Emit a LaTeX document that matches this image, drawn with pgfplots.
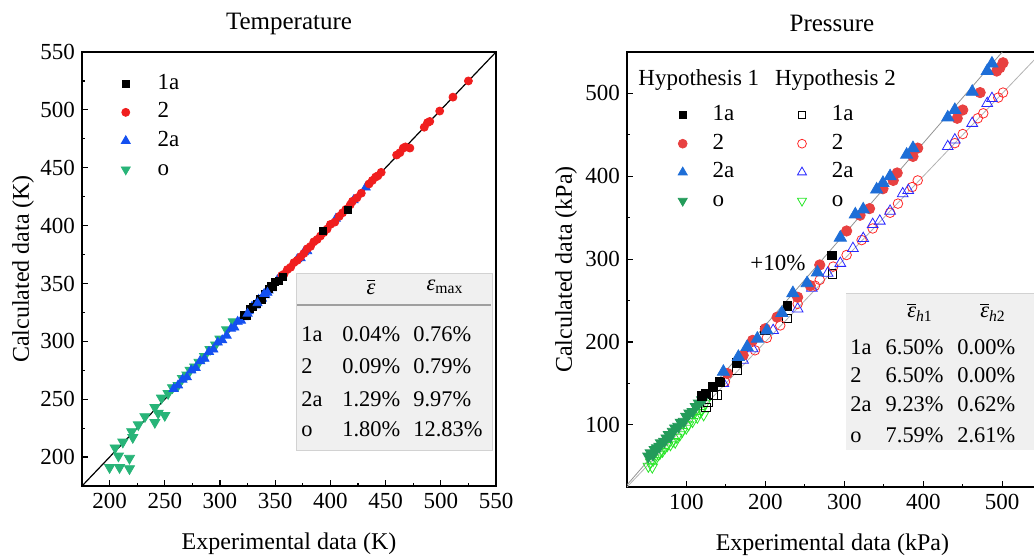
\documentclass[border=0pt]{standalone}
\usepackage{amsmath}
\usepackage{fontspec}
\setmainfont{Liberation Serif}
\usepackage{pgfplots}
\pgfplotsset{compat=1.18}
\definecolor{tred}{RGB}{240,30,30}
\definecolor{tblue}{RGB}{20,80,240}
\definecolor{tgreen}{RGB}{40,180,120}
\definecolor{pred}{RGB}{232,65,65}
\definecolor{pblue}{RGB}{30,110,215}
\definecolor{pgreen}{RGB}{35,155,90}
\definecolor{ored}{RGB}{255,40,40}
\definecolor{oblue}{RGB}{40,40,255}
\definecolor{ogreen}{RGB}{40,230,40}
\definecolor{tabbg}{RGB}{240,240,240}
\newcommand{\tfont}{\fontsize{11.5}{13}\selectfont}
\newcommand{\tabfont}{\fontsize{11.2}{13}\selectfont}
\pgfplotsset{common/.style={
  scale only axis, tick align=inside, xtick pos=bottom, ytick pos=left,
  major tick length=3pt, minor tick length=1.6pt, minor tick num=1,
  axis line style={line width=0.8pt},
  every tick/.style={black, line width=0.6pt},
  /pgf/number format/assume math mode=true,
  ticklabel style={font=\tfont},
  label style={font=\fontsize{12}{14}\selectfont},
  title style={font=\fontsize{12.5}{15}\selectfont, at={(axis description cs:0.5,1.037)}, anchor=center, yshift=0pt},
  legend cell align=left,
  legend image code/.code={\path (0cm,0cm) (0.4cm,0cm); \draw[##1] plot coordinates {(0.2cm,0cm)};},
}}
\begin{document}
\begin{tikzpicture}
\useasboundingbox (0,0) rectangle (517pt,279.5pt);
% ---------------- Temperature ----------------
\begin{axis}[common,
  at={(41pt,36.5pt)}, anchor=south west, width=207pt, height=217pt,
  xmin=175, xmax=550, ymin=175, ymax=550,
  xtick={200,250,...,550}, ytick={200,250,...,550},
  title={Temperature},
  xlabel={Experimental data (K)}, ylabel={Calculated data (K)},
  xlabel style={at={(axis description cs:0.5,-0.1336)}, anchor=center},
  ylabel style={at={(axis description cs:-0.1425,0.5)}, anchor=center},
  legend style={draw=none, fill=none, inner sep=0pt, at={(axis description cs:0.0763,0.952)}, anchor=north west,
    font=\tfont, row sep=3.8pt, nodes={text height=8pt, text depth=2.5pt, inner ysep=0pt},
    /tikz/every odd column/.append style={column sep=8pt}},
]
\addplot[black, line width=0.6pt, forget plot] coordinates {(175,175) (550,550)};
\addplot[only marks, mark=triangle*, mark size=2.9pt, mark options={rotate=180, fill=tgreen, draw=tgreen}, forget plot] coordinates {
(200,191)(209,191)(218,190)(218,199)(208,201)(205,208)(212,213)(221,217)(220,222)(226,228)
(232,235)(241,230)(244,238)(250,236)(241,243)(247,251)(253,255)(257,260)(262,262)(266,268)
(270,271)(273,275)(277,278)(281,282)(286,287)(291,293)(296,297)(300,302)(306,310)(312,317)};
\addplot[only marks, mark=triangle*, mark size=2.6pt, mark options={fill=tblue, draw=tblue}, forget plot] coordinates {
(258,259)(262,262)(266,267)(270,269)(274,275)(278,277)(282,283)(286,285)(290,291)(294,293)
(298,299)(302,301)(306,305)(310,311)(313,312)(316,317)(319,318)(322,321)(326,326)(329,330)
(332,331)(335,336)(338,337)(341,340)(344,344)(347,346)(352,353)(370,371)(373,372)(376,377)
(379,378)(405,406)(421,422)(432,433)};
\addplot[only marks, mark=*, mark size=2pt, mark options={fill=tred, draw=tred}, forget plot] coordinates {
(356,357)(358,358)(361,362)(364,364)(367,368)(370,370)(373,373)(376,376)(379,380)(382,382)
(385,386)(388,388)(391,391)(394,394)(397,397)(400,401)(404,403)(408,408)(411,411)(414,414)
(418,418)(420,421)(424,424)(428,428)(435,436)(438,439)(441,442)(443,443)(446,446)(460,461)
(463,463)(466,467)(468,468)(472,467)(485,485)(488,489)(490,490)(499,499)(511,511)(525,525)};
\addplot[only marks, mark=square*, mark size=1.75pt, mark options={fill=black, draw=black}, forget plot] coordinates {
(322,323)(324,322)(327,328)(330,330)(333,332)(336,337)(338,336)(341,341)(344,345)(346,348)
(348,347)(350,351)(353,352)(357,356)(393,395)(416,414)};
\addplot[only marks, mark=triangle*, mark size=2.6pt, mark options={fill=tblue, draw=tblue}, forget plot] coordinates {
(325,324)(334,333)(340,341)(343,342)};
\addlegendimage{only marks, mark=square*, mark size=1.75pt, mark options={fill=black, draw=black}}
\addlegendentry{1a}
\addlegendimage{only marks, mark=*, mark size=2pt, mark options={fill=tred, draw=tred}}
\addlegendentry{2}
\addlegendimage{only marks, mark=triangle*, mark size=2.6pt, mark options={fill=tblue, draw=tblue}}
\addlegendentry{2a}
\addlegendimage{only marks, mark=triangle*, mark size=2.6pt, mark options={rotate=180, fill=tgreen, draw=tgreen}}
\addlegendentry{o}
\end{axis}
% ---------------- Pressure ----------------
\begin{axis}[common,
  at={(313.5pt,36pt)}, anchor=south west, width=205.4pt, height=217.5pt,
  xmin=25, xmax=545, ymin=25, ymax=550,
  xtick={100,200,...,500}, ytick={100,200,...,500},
  title={Pressure},
  title style={at={(axis description cs:0.499,1.037)}},
  xlabel={Experimental data (kPa)}, ylabel={Calculated data (kPa)},
  xlabel style={at={(axis description cs:0.5,-0.1333)}, anchor=center},
  ylabel style={at={(axis description cs:-0.1485,0.5)}, anchor=center},
  legend columns=2,
  legend style={draw=none, fill=none, inner sep=0pt, at={(axis description cs:0.106,0.880)}, anchor=north west,
    font=\tfont, row sep=3.8pt, nodes={text height=8pt, text depth=2.5pt, inner ysep=0pt},
    /tikz/every odd column/.append style={column sep=7pt},
    /tikz/every even column/.append style={column sep=26pt}},
]
\addplot[gray!60, line width=0.4pt, forget plot] coordinates {(25,25) (545,545)};
\addplot[gray!85, line width=0.4pt, forget plot] coordinates {(22.7,25) (500,550)};
% hypothesis 2 (open)
\addplot[only marks, mark=triangle, mark size=3pt, mark options={rotate=180, draw=ogreen, line width=0.4pt}, forget plot] coordinates {
(52,50)(55,55)(57,49)(58,57)(62,60)(65,64)(67,66)(70,68)(73,72)(76,75)(80,76)(83,80)(86,79)
(88,85)(92,88)(95,92)(100,96)(103,100)(105,108)(108,104)(111,115)(114,109)(117,115)(120,118)(124,126)(122,112)};
\addplot[only marks, mark=square, mark size=2.1pt, mark options={draw=black, line width=0.4pt}, forget plot] coordinates {
(125,121)(127.5,127)(134,136)(139,136)(164,166)(227.5,228.6)(285,282)};
\addplot[only marks, mark=o, mark size=2.4pt, mark options={draw=ored, line width=0.4pt}, forget plot] coordinates {
(501,501)(495,495)(476,476)(469,470)(450,451)(440,440)(393,395)(386,387)(368,367)(358,356)
(336,337)(322,323)(303,305)(286,291)(269,275)(263,268)(241,246)(219,220)(202,205)(187,190)(149,152)};
\addplot[only marks, mark=triangle, mark size=3.1pt, mark options={draw=oblue, line width=0.4pt}, forget plot] coordinates {
(487,494)(481,488)(462,464)(440,444)(431,436)(381,383)(374,379)(358,358)(345,346)(336,342)
(324,325)(311,313)(295,295)(279,283)(259,265)(241,240)(210,214)(184,192)(172,178)(147,150)};
% hypothesis 1 (filled)
\addplot[only marks, mark=triangle*, mark size=3.2pt, mark options={rotate=180, fill=pgreen, draw=pgreen}, forget plot] coordinates {
(52,62)(55,66)(58,64)(60,70)(63,72)(66,74)(68,78)(72,80)(75,84)(78,88)(80,86)(83,92)(86,96)
(90,98)(93,103)(97,104)(100,110)(104,114)(108,116)(112,122)(116,126)(120,130)(123,133)};
\addplot[only marks, mark=square*, mark size=2.2pt, mark options={fill=black, draw=black}, forget plot] coordinates {
(120,134.6)(125,138)(134,146)(143,152)(164,175)(200,214)(228,244)(284.5,304.5)};
\addplot[only marks, mark=*, mark size=2.6pt, mark options={fill=pred, draw=pred}, forget plot] coordinates {
(501,537)(497,531)(493,527)(472,501)(450,480)(443,470)(393,434)(387,424)(367,404)(362,395)
(349,385)(332,361)(320,353)(303,334)(269,293)(257,268)(241,254)(215,230)(200,216)(184,202)(172,184)(152,162)};
\addplot[only marks, mark=triangle*, mark size=3.5pt, mark options={fill=pblue, draw=pblue}, forget plot] coordinates {
(487,536)(481,527)(462,502)(440,480)(431,471)(387,434)(379,426)(358,400)(349,392)(341,384)
(324,360)(314,354)(295,326)(266,284)(253,271)(235,259)(221,235)(202,214)(190,204)(177,194)(166,182)(147,164)};
\addlegendimage{only marks, mark=square*, mark size=1.8pt, mark options={fill=black, draw=black}}
\addlegendentry{1a}
\addlegendimage{only marks, mark=square, mark size=1.8pt, mark options={draw=black, line width=0.4pt}}
\addlegendentry{1a}
\addlegendimage{only marks, mark=*, mark size=2.2pt, mark options={fill=pred, draw=pred}}
\addlegendentry{2}
\addlegendimage{only marks, mark=o, mark size=2.2pt, mark options={draw=ored, line width=0.4pt}}
\addlegendentry{2}
\addlegendimage{only marks, mark=triangle*, mark size=2.6pt, mark options={fill=pblue, draw=pblue}}
\addlegendentry{2a}
\addlegendimage{only marks, mark=triangle, mark size=2.6pt, mark options={draw=oblue, line width=0.4pt}}
\addlegendentry{2a}
\addlegendimage{only marks, mark=triangle*, mark size=2.6pt, mark options={rotate=180, fill=pgreen, draw=pgreen}}
\addlegendentry{o}
\addlegendimage{only marks, mark=triangle, mark size=2.6pt, mark options={rotate=180, draw=ogreen, line width=0.4pt}}
\addlegendentry{o}
\node[anchor=west, inner sep=0pt, font=\tfont] at (axis cs:39,516) {Hypothesis 1};
\node[anchor=west, inner sep=0pt, font=\tfont] at (axis cs:212,516) {Hypothesis 2};
\node[font=\tfont] at (axis cs:216,295) {+10\%};
\end{axis}
% ---------------- Tables ----------------
\fill[tabbg] (148pt,54.5pt) rectangle (246pt,143pt);
\draw[gray!35, line width=0.5pt] (148pt,54.5pt) rectangle (246pt,143pt);
\draw[gray!75, line width=0.6pt] (148.5pt,127pt) -- (245.5pt,127pt);
\begin{scope}[every node/.style={font=\tabfont, inner sep=0pt}]
\node at (185.5pt,136pt) {$\overline{\textit{ε}}$};
\node at (222.5pt,136pt) {$\textit{ε}_{\text{max}}$};
\node[anchor=base west] at (150.5pt,108.7pt) {1a};
\node[anchor=base west] at (150.5pt,92.7pt) {2};
\node[anchor=base west] at (150.5pt,76.2pt) {2a};
\node[anchor=base west] at (150.5pt,61.2pt) {o};
\node[anchor=base west] at (171pt,108.7pt) {0.04\%};
\node[anchor=base west] at (171pt,92.7pt) {0.09\%};
\node[anchor=base west] at (171pt,76.2pt) {1.29\%};
\node[anchor=base west] at (171pt,61.2pt) {1.80\%};
\node[anchor=base west] at (206.5pt,108.7pt) {0.76\%};
\node[anchor=base west] at (206.5pt,92.7pt) {0.79\%};
\node[anchor=base west] at (206.5pt,76.2pt) {9.97\%};
\node[anchor=base west] at (206.5pt,61.2pt) {12.83\%};
\end{scope}
\fill[tabbg] (423pt,54.5pt) rectangle (520pt,133pt);
\draw[gray!35, line width=0.5pt] (423pt,133pt) -- (520pt,133pt);
\begin{scope}[every node/.style={font=\tabfont, inner sep=0pt}]
\node at (460pt,123.5pt) {$\overline{\textit{ε}}_{\textit{h}\text{1}}$};
\node at (496.5pt,123.5pt) {$\overline{\textit{ε}}_{\textit{h}\text{2}}$};
\node[anchor=base west] at (425pt,102.2pt) {1a};
\node[anchor=base west] at (425pt,88.2pt) {2};
\node[anchor=base west] at (425pt,73.7pt) {2a};
\node[anchor=base west] at (425pt,58.2pt) {o};
\node[anchor=base east] at (472pt,102.2pt) {6.50\%};
\node[anchor=base east] at (472pt,88.2pt) {6.50\%};
\node[anchor=base east] at (472pt,73.7pt) {9.23\%};
\node[anchor=base east] at (472pt,58.2pt) {7.59\%};
\node[anchor=base west] at (478.5pt,102.2pt) {0.00\%};
\node[anchor=base west] at (478.5pt,88.2pt) {0.00\%};
\node[anchor=base west] at (478.5pt,73.7pt) {0.62\%};
\node[anchor=base west] at (478.5pt,58.2pt) {2.61\%};
\end{scope}
\end{tikzpicture}
\end{document}
